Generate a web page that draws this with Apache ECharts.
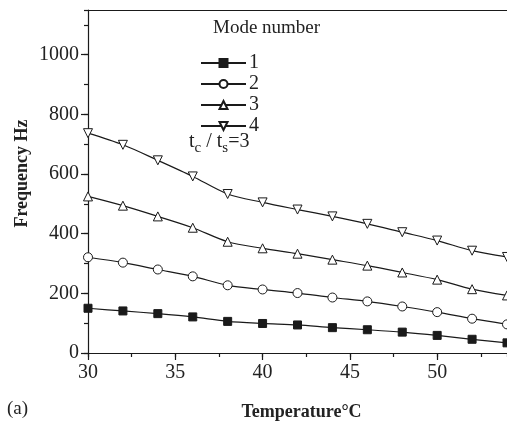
<!DOCTYPE html>
<html>
<head>
<meta charset="utf-8">
<script src="https://cdn.jsdelivr.net/npm/echarts@6/dist/echarts.min.js"></script>
<style>
    html, body { margin: 0; padding: 0; background: #fff; }
    #chart { width: 507px; height: 427px; }
</style>
</head>
<body>
<div id="chart"></div>
<script>
(function (window) {
    'use strict';

    // temperature in C, one point every 2 degrees
    var temps = [30, 32, 34, 36, 38, 40, 42, 44, 46, 48, 50, 52, 54];
    var modeNames = ['1', '2', '3', '4'];
    var mode1 = [150, 141, 132, 121, 106, 99, 94, 85, 78, 70, 59, 46, 34];
    var mode2 = [321, 303, 280, 257, 227, 213, 201, 186, 173, 156, 137, 115, 96];
    var mode3 = [525, 494, 458, 420, 373, 351, 333, 313, 293, 270, 246, 214, 193];
    var mode4 = [737, 698, 646, 592, 533, 505, 481, 458, 433, 405, 377, 343, 322];

    var serif = '"Liberation Serif", "DejaVu Serif", serif';
    var ink = '#1a1a1a';

    function pairs(ys) {
        var out = [];
        for (var i = 0; i < temps.length; i++) {
            out.push([temps[i], ys[i]]);
        }
        return out;
    }

    function makeSeries(name, ys, symbol, fill, size) {
        return {
            name: name,
            type: 'line',
            data: pairs(ys),
            smooth: 0.3,
            symbol: symbol,
            symbolSize: size,
            showAllSymbol: true,
            clip: true,
            lineStyle: { color: ink, width: 1.2 },
            itemStyle: { color: fill, borderColor: ink, borderWidth: 1 },
            emphasis: { disabled: true },
            z: 3
        };
    }

    var baseAxis = {
        type: 'value',
        splitLine: { show: false },
        axisLine: { show: true, onZero: false, lineStyle: { color: ink, width: 1.2 } },
        axisTick: { show: true, inside: false, length: 7, lineStyle: { color: ink, width: 1.2 } },
        axisLabel: { color: '#222', fontFamily: serif, fontSize: 20 }
    };

    function extend(a, b) {
        var o = JSON.parse(JSON.stringify(a));
        for (var k in b) {
            if (b[k] && typeof b[k] === 'object' && !Array.isArray(b[k]) && o[k]) {
                for (var j in b[k]) { o[k][j] = b[k][j]; }
            } else {
                o[k] = b[k];
            }
        }
        return o;
    }

    function plain(v) {
        return String(v);
    }

    var chart = echarts.init(document.getElementById('chart'), null, { renderer: 'canvas' });

    var option = {
        animation: false,
        backgroundColor: '#fff',
        grid: { left: 88, top: 10, right: 0, bottom: 74, containLabel: false },
        xAxis: [
            extend(baseAxis, {
                min: 30, max: 54, interval: 5, position: 'bottom',
                axisLabel: { color: '#222', fontFamily: serif, fontSize: 20, margin: 10, showMaxLabel: false, formatter: plain },
                name: 'Temperature°C',
                nameLocation: 'middle',
                nameGap: 50,
                nameMoveOverlap: false,
                nameTextStyle: { color: '#222', fontFamily: serif, fontSize: 18, fontWeight: 'bold', padding: [0, 0, 0, 8] }
            }),
            extend(baseAxis, {
                min: 30, max: 54, interval: 2.5, position: 'bottom',
                axisLine: { show: false },
                axisTick: { show: true, inside: false, length: 4, lineStyle: { color: ink, width: 1.2 } },
                axisLabel: { show: false }
            }),
            extend(baseAxis, {
                min: 30, max: 54, position: 'top',
                axisTick: { show: false },
                axisLabel: { show: false }
            })
        ],
        yAxis: [
            extend(baseAxis, {
                min: 0, max: 1150, interval: 200,
                axisLabel: { color: '#222', fontFamily: serif, fontSize: 20, margin: 9, showMaxLabel: false, formatter: plain },
                name: 'Frequency Hz',
                nameLocation: 'middle',
                nameGap: 57,
                nameMoveOverlap: false,
                nameTextStyle: { color: '#222', fontFamily: serif, fontSize: 18, fontWeight: 'bold', padding: [0, 0, 0, 16] }
            }),
            extend(baseAxis, {
                min: 0, max: 1150, interval: 100, position: 'left',
                axisLine: { show: false },
                axisTick: { show: true, inside: false, length: 4, lineStyle: { color: ink, width: 1.2 } },
                axisLabel: { show: false }
            })
        ],
        legend: {
            orient: 'vertical',
            left: 195,
            top: 48,
            itemWidth: 45,
            itemHeight: 10,
            itemGap: 1,
            selectedMode: false,
            data: modeNames,
            textStyle: { color: '#222', fontFamily: serif, fontSize: 20, padding: [0, 0, 0, -2] }
        },
        graphic: [
            {
                type: 'text', left: 213, top: 19,
                style: { text: 'Mode number', fill: '#222', font: '19px ' + serif }
            },
            {
                type: 'text', left: 189, top: 132,
                style: {
                    text: '{a|t}{s|c}{a| / t}{s|s}{a|=3}',
                    rich: {
                        a: { fill: '#222', fontFamily: serif, fontSize: 20, lineHeight: 22, verticalAlign: 'top' },
                        s: { fill: '#222', fontFamily: serif, fontSize: 15, lineHeight: 22, padding: [9, 0, 0, 0], verticalAlign: 'top' }
                    }
                }
            },
            {
                type: 'text', left: 7, top: 400,
                style: { text: '(a)', fill: '#222', font: '19px ' + serif }
            }
        ],
        series: [
            makeSeries(modeNames[0], mode1, 'rect', ink, 8),
            makeSeries(modeNames[1], mode2, 'circle', '#fff', 9),
            makeSeries(modeNames[2], mode3, 'triangle', '#fff', 9),
            makeSeries(modeNames[3], mode4, 'path://M0,0 L10,0 L5,9 Z', '#fff', 9)
        ]
    };

    chart.setOption(option);
    window.addEventListener('resize', function () {
        chart && chart.resize();
    });
})(window);
</script>
</body>
</html>
